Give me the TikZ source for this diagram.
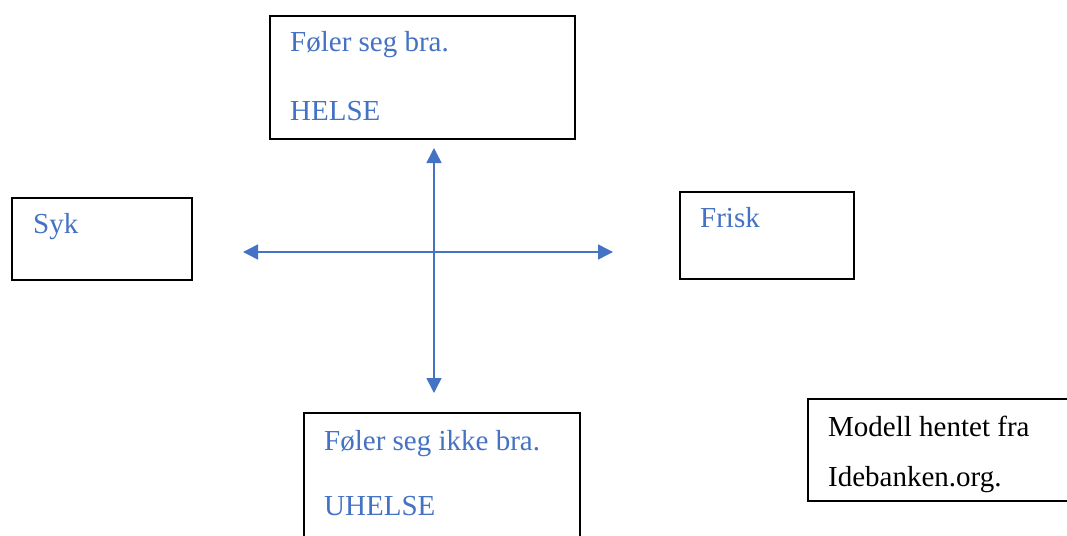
\documentclass[tikz,border=0pt]{standalone}
\usepackage{fontspec}
\setmainfont{Liberation Serif}
\usetikzlibrary{arrows.meta}
\definecolor{axisblue}{HTML}{4472C4}
\begin{document}
\begin{tikzpicture}[x=1pt,y=-1pt,
  frame/.style={draw=black, line width=2pt, fill=white, inner sep=0pt, anchor=north west},
  txt/.style={anchor=base west, inner sep=0pt, font=\fontsize{29}{34}\selectfont},
  bluetxt/.style={txt, text=axisblue},
  axis/.style={draw=axisblue, line width=1.5pt,
    {Triangle[length=15pt,width=15pt]}-{Triangle[length=15pt,width=15pt]}}]
\useasboundingbox (0,0) rectangle (1067,535);
\clip (0,0) rectangle (1067,535);

% boxes
\node[frame, minimum width=305pt, minimum height=123pt] (helsebox) at (269,15) {};
\node[frame, minimum width=180pt, minimum height=82pt] (sykbox) at (11,197) {};
\node[frame, minimum width=174pt, minimum height=87pt] (friskbox) at (679,191) {};
\node[frame, minimum width=276pt, minimum height=160pt] (uhelsebox) at (303,412) {};
\node[frame, minimum width=280pt, minimum height=102pt] (kildebox) at (807,398) {};

% texts
\node[bluetxt] (t1) at (290,52) {Føler seg bra.};
\node[bluetxt] (t2) at (290,120) {HELSE};
\node[bluetxt] (t3) at (33,233) {Syk};
\node[bluetxt] (t4) at (700,227) {Frisk};
\node[bluetxt] (t5) at (324,450) {Føler seg ikke bra.};
\node[bluetxt] (t6) at (324,515) {UHELSE};
\node[txt] (t7) at (828,436) {Modell hentet fra};
\node[txt] (t8) at (828,486) {Idebanken.org.};

% axes
\coordinate (vtop) at (434,148);
\coordinate (vbot) at (434,393);
\coordinate (hleft) at (243,252);
\coordinate (hright) at (613,252);
\draw[axis] (vtop) -- (vbot);
\draw[axis] (hleft) -- (hright);
\end{tikzpicture}
\end{document}
